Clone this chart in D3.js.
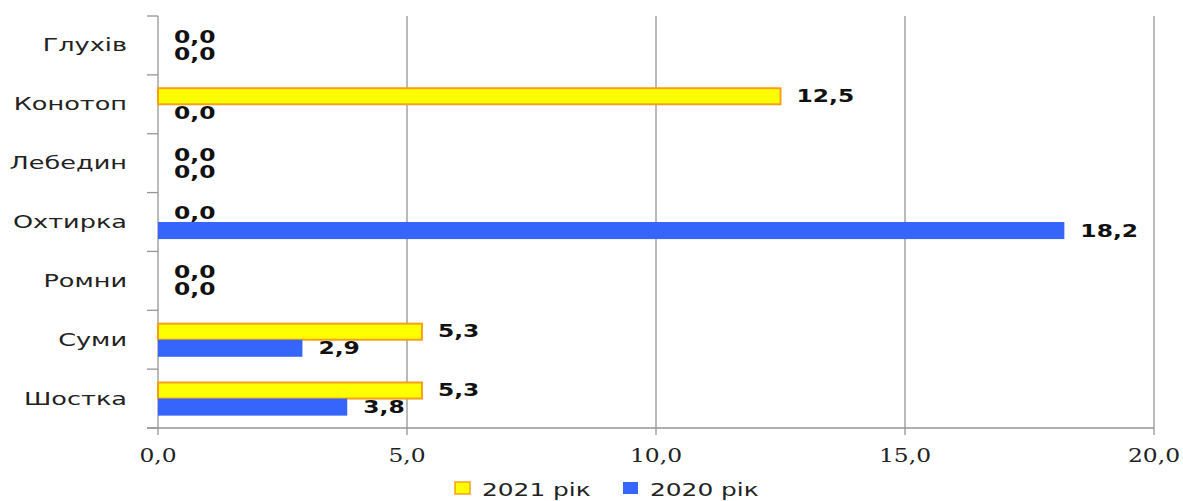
<!DOCTYPE html>
<html><head><meta charset="utf-8">
<script src="https://cdn.jsdelivr.net/npm/d3@7"></script>
<style>body{margin:0;background:#fff}</style>
</head><body>
<svg id="c" width="1183" height="501"></svg>
<script>
const categories = ["Глухів","Конотоп","Лебедин","Охтирка","Ромни","Суми","Шостка"];
const values2021 = [0, 12.5, 0, 0, 0, 5.3, 5.3];
const values2020 = [0, 0, 0, 18.2, 0, 2.9, 3.8];
const seriesNames = ["2021 рік","2020 рік"];
const xTicks = [0,5,10,15,20];

(function(){
const svg = d3.select("#c");
const mLeft = 158, mRight = 1154, mTop = 16, mBottom = 428;
const x = d3.scaleLinear().domain([0,20]).range([mLeft,mRight]);
const y = d3.scaleBand().domain(categories).range([mTop,mBottom]).paddingInner(0.42).paddingOuter(0.21);
const fmt = v => d3.format(".1f")(v).replace(".", ",");
const SX = 1.38;

// grid
svg.append("g").selectAll("line").data(xTicks.slice(1)).join("line")
  .attr("x1", d=>x(d)).attr("x2", d=>x(d)).attr("y1", mTop).attr("y2", mBottom+7)
  .attr("stroke","#959595").attr("stroke-width",1.3);
// left axis
svg.append("line").attr("x1",mLeft).attr("x2",mLeft).attr("y1",mTop).attr("y2",mBottom+7)
  .attr("stroke","#959595").attr("stroke-width",1.3);
const bounds = d3.range(categories.length+1).map(i => mTop + i*(mBottom-mTop)/categories.length);
svg.append("g").selectAll("line").data(bounds).join("line")
  .attr("x1",mLeft-11).attr("x2",mLeft).attr("y1",d=>d).attr("y2",d=>d)
  .attr("stroke","#959595").attr("stroke-width",1.3);
// bottom axis
svg.append("line").attr("x1",mLeft-11).attr("x2",mRight).attr("y1",mBottom).attr("y2",mBottom)
  .attr("stroke","#959595").attr("stroke-width",1.3);

// tick labels
svg.append("g").selectAll("text").data(xTicks).join("text")
  .attr("transform", d=>`translate(${x(d)},462) scale(1.3,1)`)
  .attr("text-anchor","middle")
  .attr("font-family","'DejaVu Serif', serif").attr("font-size",18).attr("fill","#222")
  .text(d=>fmt(d));

// category labels
svg.append("g").selectAll("text").data(categories).join("text")
  .attr("transform", d=>`translate(127,${y(d)+y.bandwidth()/2+6}) scale(1.42,1)`)
  .attr("text-anchor","end")
  .attr("font-family","DejaVu Sans").attr("font-size",18).attr("fill","#222")
  .text(d=>d);

const bh = y.bandwidth()/2;
// bars 2021
svg.append("g").selectAll("rect").data(categories).join("rect")
  .attr("x", x(0)).attr("y", d=>y(d)+1).attr("height", bh-1)
  .attr("width", (d,i)=>x(values2021[i])-x(0))
  .attr("fill","#FFFF00").attr("stroke", (d,i)=>values2021[i]>0?"#F6A01A":"none").attr("stroke-width",2);
// bars 2020
svg.append("g").selectAll("rect").data(categories).join("rect")
  .attr("x", x(0)).attr("y", d=>y(d)+bh).attr("height", bh)
  .attr("width", (d,i)=>x(values2020[i])-x(0))
  .attr("fill","#3565FA");

// labels
function labels(vals, off){
  svg.append("g").selectAll("text").data(categories).join("text")
    .attr("transform",(d,i)=>`translate(${x(vals[i])+16},${y(d)+off+bh/2+6}) scale(1.3,1)`)
    .attr("font-family","DejaVu Sans").attr("font-weight","bold").attr("font-size",18).attr("fill","#111")
    .text((d,i)=>fmt(vals[i]));
}
labels(values2021, 0);
labels(values2020, bh);

// legend
const lg = svg.append("g");
const legendItems = [{name:seriesNames[0], fill:"#FFFF00", stroke:"#F6A01A", x:455},
                     {name:seriesNames[1], fill:"#3565FA", stroke:"none", x:623}];
lg.selectAll("rect").data(legendItems).join("rect")
  .attr("x",d=>d.x).attr("y",482).attr("width",15).attr("height",12)
  .attr("fill",d=>d.fill).attr("stroke",d=>d.stroke).attr("stroke-width",1.5);
lg.selectAll("text").data(legendItems).join("text")
  .attr("transform",d=>`translate(${d.x+27},496) scale(${SX},1)`)
  .attr("font-family","DejaVu Sans").attr("font-size",18).attr("fill","#222")
  .text(d=>d.name);
})();
</script>
</body></html>
